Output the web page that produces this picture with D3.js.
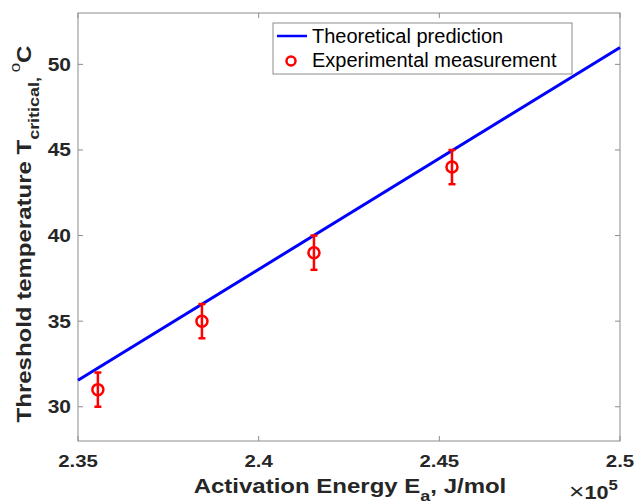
<!DOCTYPE html>
<html>
<head>
<meta charset="utf-8">
<script src="https://cdn.jsdelivr.net/npm/d3@7"></script>
<style>
body { margin: 0; background: #fff; }
svg { font-family: "Liberation Sans", Arial, sans-serif; }
</style>
</head>
<body>
<svg id="chart" width="636" height="504"></svg>
<script>
// data
var lineE = [2.35, 2.5]            // x 1e5 J/mol
var lineT = [31.55, 50.98]
var expE = [2.3555, 2.3843, 2.4153, 2.4535]
var expT = [31, 35, 39, 44]
var expErr = [1, 1, 1, 1]
var xTicks = [2.35, 2.4, 2.45, 2.5]
var yTicks = [30, 35, 40, 45, 50]

var svg = d3.select("#chart")
var pl = 78, pr = 620, pt = 13, pb = 441

var x = d3.scaleLinear().domain([2.35, 2.5]).range([pl, pr])
var y = d3.scaleLinear().domain([28, 53]).range([pb, pt])

var axisColor = "#8c8c8c"
var textColor = "#262626"
var stretch = 1.2   // bold text in the picture is wider than Liberation Sans

// text placed at (tx,ty), stretched along its baseline
function label(tx, ty, anchor, size, rot) {
    var g = svg.append("g")
        .attr("transform", "translate(" + tx + "," + ty + ")" + (rot ? " rotate(" + rot + ")" : "") + " scale(" + stretch + ",1)")
    return g.append("text")
        .attr("text-anchor", anchor).attr("font-size", size).attr("font-weight", "bold")
        .attr("fill", textColor)
}

// box
svg.append("rect")
    .attr("x", pl).attr("y", pt)
    .attr("width", pr - pl).attr("height", pb - pt)
    .attr("fill", "none").attr("stroke", axisColor).attr("stroke-width", 1)

// inward ticks on all four sides
var tl = 5
xTicks.forEach(function(t) {
    svg.append("line").attr("x1", x(t)).attr("x2", x(t)).attr("y1", pb).attr("y2", pb - tl).attr("stroke", axisColor)
    svg.append("line").attr("x1", x(t)).attr("x2", x(t)).attr("y1", pt).attr("y2", pt + tl).attr("stroke", axisColor)
    label(x(t), 467, "middle", 17).text(d3.format("")(t))
})
yTicks.forEach(function(t) {
    svg.append("line").attr("x1", pl).attr("x2", pl + tl).attr("y1", y(t)).attr("y2", y(t)).attr("stroke", axisColor)
    svg.append("line").attr("x1", pr).attr("x2", pr - tl).attr("y1", y(t)).attr("y2", y(t)).attr("stroke", axisColor)
    label(71, y(t) + 6.5, "end", 17.5).text(t)
})

// theoretical line
var lineData = lineE.map(function(e, i) { return [e, lineT[i]] })
svg.append("path")
    .datum(lineData)
    .attr("d", d3.line().x(function(d) { return x(d[0]) }).y(function(d) { return y(d[1]) }))
    .attr("fill", "none").attr("stroke", "#0000ff").attr("stroke-width", 3)

// error bars + markers
var red = "#ff0000"
expE.forEach(function(e, i) {
    var cx = x(e), lo = y(expT[i] - expErr[i]), hi = y(expT[i] + expErr[i])
    svg.append("line").attr("x1", cx).attr("x2", cx).attr("y1", lo).attr("y2", hi).attr("stroke", red).attr("stroke-width", 2.5)
    svg.append("line").attr("x1", cx - 3.5).attr("x2", cx + 3.5).attr("y1", lo).attr("y2", lo).attr("stroke", red).attr("stroke-width", 2.5)
    svg.append("line").attr("x1", cx - 3.5).attr("x2", cx + 3.5).attr("y1", hi).attr("y2", hi).attr("stroke", red).attr("stroke-width", 2.5)
    svg.append("circle").attr("cx", cx).attr("cy", y(expT[i])).attr("r", 5.5)
        .attr("fill", "none").attr("stroke", red).attr("stroke-width", 2.5)
})

// legend
var lg = svg.append("g")
lg.append("rect").attr("x", 273).attr("y", 23).attr("width", 299).attr("height", 51)
    .attr("fill", "#fff").attr("stroke", axisColor).attr("stroke-width", 1)
lg.append("line").attr("x1", 277).attr("x2", 307).attr("y1", 36).attr("y2", 36).attr("stroke", "#0000ff").attr("stroke-width", 2.5)
lg.append("circle").attr("cx", 291).attr("cy", 61).attr("r", 4.5).attr("fill", "none").attr("stroke", red).attr("stroke-width", 2.5)
lg.append("text").attr("x", 312).attr("y", 43).attr("font-size", 20).attr("fill", "#000").text("Theoretical prediction")
lg.append("text").attr("x", 312).attr("y", 67).attr("font-size", 20).attr("fill", "#000").text("Experimental measurement")

// x label
var xl = label(350, 493, "middle", 20)
xl.append("tspan").text("Activation Energy E")
xl.append("tspan").attr("font-size", 15).attr("dy", 8).text("a")
xl.append("tspan").attr("dy", -8).text(", J/mol")

// exponent
var ex = label(569, 499, "start", 18)
ex.append("tspan").attr("font-weight", "normal").attr("font-size", 22).text("\u00d7")
ex.append("tspan").text("10")
ex.append("tspan").attr("font-size", 14).attr("dy", -9).text("5")

// y label
var yl = label(31, 234, "middle", 20, -90)
yl.append("tspan").text("Threshold temperature T")
yl.append("tspan").attr("font-size", 15).attr("dy", 8).text("critical,")
yl.append("tspan").attr("font-size", 14).attr("font-weight", "normal").attr("dy", -19).text(" o")
yl.append("tspan").attr("dy", 11).text("C")
</script>
</body>
</html>
